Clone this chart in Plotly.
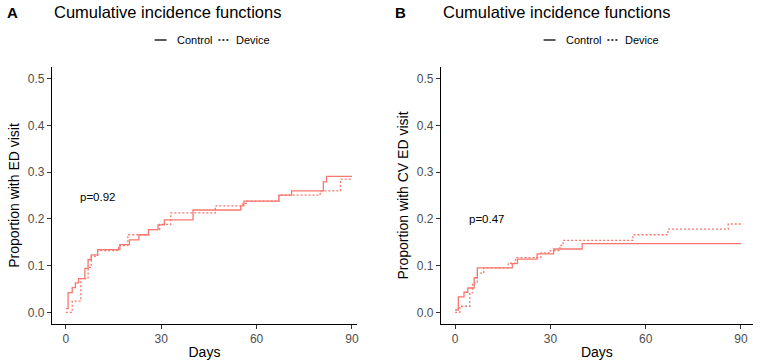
import plotly.graph_objects as go

# ---- data ----
a_ctrl_t = [0, 0.7, 2, 3, 4, 6, 7, 8, 10, 17, 20, 23, 26, 29, 31, 40, 55, 56, 67, 71, 81, 82, 90]
a_ctrl_v = [0.008, 0.042, 0.053, 0.063, 0.072, 0.094, 0.113, 0.123, 0.134, 0.145, 0.155, 0.166,
            0.177, 0.187, 0.198, 0.219, 0.228, 0.238, 0.251, 0.260, 0.279, 0.291, 0.291]
a_dev_t = [0, 2, 4.7, 7, 8, 10, 16.6, 19.5, 26, 29.5, 33, 47, 55.7, 57, 67, 80, 86.4, 90]
a_dev_v = [0.0, 0.024, 0.072, 0.096, 0.12, 0.132, 0.143, 0.166, 0.177, 0.188, 0.213, 0.228,
           0.233, 0.238, 0.251, 0.26, 0.285, 0.285]

b_ctrl_t = [0, 1, 2.8, 4, 6, 7, 18, 19.6, 25.8, 31, 40, 90]
b_ctrl_v = [0.005, 0.033, 0.043, 0.052, 0.074, 0.095, 0.104, 0.114, 0.125, 0.1355, 0.147, 0.147]
b_dev_t = [0, 1.5, 4.6, 5.5, 7, 9, 16.7, 19, 27, 30, 33, 34, 56, 67, 86, 90]
b_dev_v = [0.0, 0.013, 0.042, 0.063, 0.084, 0.095, 0.105, 0.117, 0.127, 0.132, 0.143, 0.154,
           0.166, 0.178, 0.189, 0.189]

x_ticks = [0, 30, 60, 90]
y_ticks = [0.0, 0.1, 0.2, 0.3, 0.4, 0.5]
y_tick_text = ["0.0", "0.1", "0.2", "0.3", "0.4", "0.5"]
panel_titles = ["Cumulative incidence functions", "Cumulative incidence functions"]
panel_letters = ["A", "B"]
y_titles = ["Proportion with ED visit", "Proportion with CV ED visit"]
p_values = ["p=0.92", "p=0.47"]
p_pos = [(10, 0.247), (10, 0.200)]
legend_names = ["Control", "Device"]

COL = "#F8766D"
FONT = "Liberation Sans, Arial, Helvetica, sans-serif"
W, H = 760, 362

fig = go.Figure()

panels = [
    dict(xa="x", ya="y", ctrl=(a_ctrl_t, a_ctrl_v), dev=(a_dev_t, a_dev_v)),
    dict(xa="x2", ya="y2", ctrl=(b_ctrl_t, b_ctrl_v), dev=(b_dev_t, b_dev_v)),
]
for i, p in enumerate(panels):
    fig.add_trace(go.Scatter(x=p["ctrl"][0], y=p["ctrl"][1], mode="lines", line_shape="hv",
                             line=dict(color=COL, width=1.3), name=legend_names[0],
                             xaxis=p["xa"], yaxis=p["ya"], showlegend=False))
    fig.add_trace(go.Scatter(x=p["dev"][0], y=p["dev"][1], mode="lines", line_shape="hv",
                             line=dict(color=COL, width=1.3, dash="2px,2px"), name=legend_names[1],
                             xaxis=p["xa"], yaxis=p["ya"], showlegend=False))

# plot-area domains (pixel-based)
dom_x = [(52 / W, 358 / W), (442 / W, 755 / W)]
dom_y = ((H - 324) / H, (H - 67) / H)
x_ranges = [[-4.4, 91.6], [-4.5, 93.8]]

axis_common = dict(showline=True, linecolor="black", linewidth=1, ticks="outside", ticklen=4,
                   tickcolor="#333333", tickwidth=1, showgrid=False, zeroline=False,
                   tickfont=dict(family=FONT, size=12, color="#4D4D4D"))
layout = dict(
    width=W, height=H, margin=dict(l=0, r=0, t=0, b=0),
    plot_bgcolor="white", paper_bgcolor="white", showlegend=False,
    font=dict(family=FONT),
)
for i in range(2):
    sx = "" if i == 0 else "2"
    layout["xaxis" + sx] = dict(axis_common, domain=list(dom_x[i]), range=x_ranges[i],
                                tickvals=x_ticks, anchor="y" + sx,
                                title=dict(text="Days", font=dict(family=FONT, size=14, color="black"),
                                           standoff=1))
    layout["yaxis" + sx] = dict(axis_common, domain=list(dom_y), range=[-0.025, 0.525],
                                tickvals=y_ticks, ticktext=y_tick_text, anchor="x" + sx,
                                title=dict(text=y_titles[i], font=dict(family=FONT, size=14, color="black"),
                                           standoff=4))
fig.update_layout(**layout)

ann = []
shapes = []
title_x = [52, 442]
letter_x = [5, 394]
leg_center = [213, 603]
for i in range(2):
    sx = "" if i == 0 else "2"
    ann.append(dict(text=panel_titles[i], xref="paper", yref="paper", x=title_x[i] / W,
                    y=1 - 12 / H, xanchor="left", yanchor="middle", showarrow=False,
                    font=dict(family=FONT, size=16.5, color="black")))
    ann.append(dict(text="<b>" + panel_letters[i] + "</b>", xref="paper", yref="paper",
                    x=letter_x[i] / W, y=1 - 12 / H, xanchor="left", yanchor="middle",
                    showarrow=False, font=dict(family=FONT, size=15, color="black")))
    ann.append(dict(text=p_values[i], xref="x" + sx, yref="y" + sx, x=p_pos[i][0], y=p_pos[i][1],
                    xanchor="center", yanchor="middle", showarrow=False,
                    font=dict(family=FONT, size=11.5, color="black")))
    # legend keys
    c = leg_center[i]
    ly = 1 - 40 / H
    shapes.append(dict(type="line", xref="paper", yref="paper", x0=(c - 58) / W, x1=(c - 46) / W,
                       y0=ly, y1=ly, line=dict(color="black", width=1.3)))
    ann.append(dict(text=legend_names[0], xref="paper", yref="paper", x=(c - 38) / W, y=ly,
                    xanchor="left", yanchor="middle", showarrow=False,
                    font=dict(family=FONT, size=11, color="black")))
    shapes.append(dict(type="line", xref="paper", yref="paper", x0=(c + 6) / W, x1=(c + 18) / W,
                       y0=ly, y1=ly, line=dict(color="black", width=1.3, dash="2px,2px")))
    ann.append(dict(text=legend_names[1], xref="paper", yref="paper", x=(c + 22) / W, y=ly,
                    xanchor="left", yanchor="middle", showarrow=False,
                    font=dict(family=FONT, size=11, color="black")))

fig.update_layout(annotations=ann, shapes=shapes)
fig.write_html("out.html")
